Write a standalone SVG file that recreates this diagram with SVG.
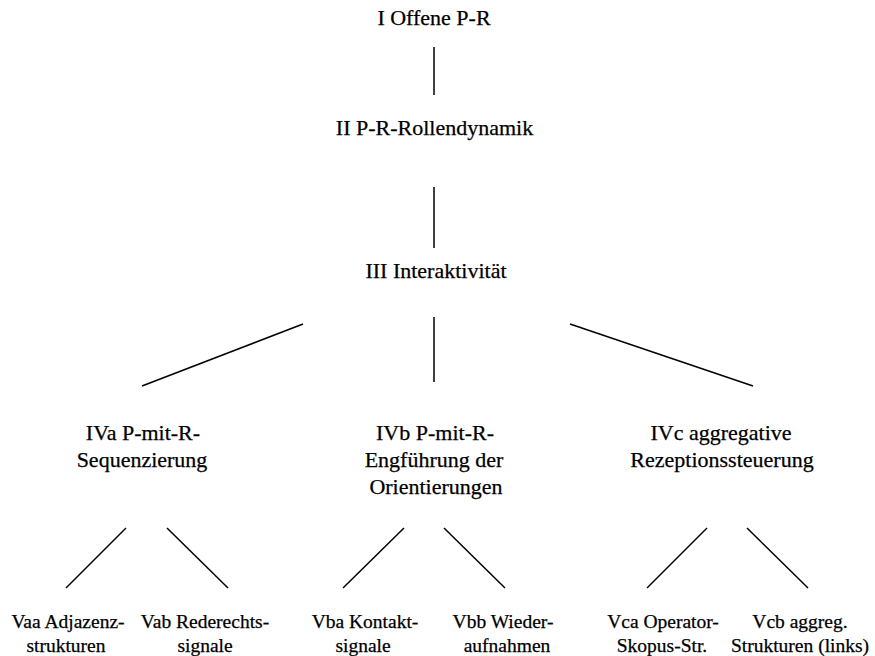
<svg xmlns="http://www.w3.org/2000/svg" width="875" height="656" viewBox="0 0 875 656">
<style>
text{font-family:"Liberation Serif","DejaVu Serif",serif;fill:#000;stroke:#000;stroke-width:0.25;text-anchor:middle}
.t{font-size:22px}
.b{font-size:19.5px}
.c line{stroke:#000;stroke-width:1.5}
</style>
<rect width="875" height="656" fill="#fff"/>
<g class="c" id="connectors">
<line x1="434" y1="47" x2="434" y2="95"/>
<line x1="434" y1="187" x2="434" y2="248"/>
<line x1="303" y1="324" x2="142" y2="386"/>
<line x1="434" y1="317" x2="434" y2="382"/>
<line x1="570" y1="324" x2="753" y2="386"/>
<line x1="126" y1="528" x2="66" y2="588"/>
<line x1="167" y1="528" x2="228" y2="588"/>
<line x1="404" y1="528" x2="343" y2="588"/>
<line x1="444" y1="528" x2="505" y2="588"/>
<line x1="707" y1="528" x2="647" y2="588"/>
<line x1="747" y1="528" x2="808" y2="588"/>
</g>
<g id="n1"><text class="t" x="434" y="25">I Offene P-R</text></g>
<g id="n2"><text class="t" x="434.5" y="135">II P-R-Rollendynamik</text></g>
<g id="n3"><text class="t" x="436" y="278">III Interaktivität</text></g>
<g id="n4a"><text class="t" x="143" y="440">IVa P-mit-R-</text><text class="t" x="142" y="467">Sequenzierung</text></g>
<g id="n4b"><text class="t" x="435" y="440">IVb P-mit-R-</text><text class="t" x="434" y="467">Engführung der</text><text class="t" x="436" y="494">Orientierungen</text></g>
<g id="n4c"><text class="t" x="721" y="440">IVc aggregative</text><text class="t" x="722" y="467">Rezeptionssteuerung</text></g>
<g id="n5aa"><text class="b" x="68" y="628">Vaa Adjazenz-</text><text class="b" x="66" y="652">strukturen</text></g>
<g id="n5ab"><text class="b" x="205" y="628">Vab Rederechts-</text><text class="b" x="205" y="652">signale</text></g>
<g id="n5ba"><text class="b" x="365" y="628">Vba Kontakt-</text><text class="b" x="363" y="652">signale</text></g>
<g id="n5bb"><text class="b" x="503" y="628">Vbb Wieder-</text><text class="b" x="507" y="652">aufnahmen</text></g>
<g id="n5ca"><text class="b" x="663" y="628">Vca Operator-</text><text class="b" x="662" y="652">Skopus-Str.</text></g>
<g id="n5cb"><text class="b" x="800" y="628">Vcb aggreg.</text><text class="b" x="800" y="652">Strukturen (links)</text></g>
</svg>
